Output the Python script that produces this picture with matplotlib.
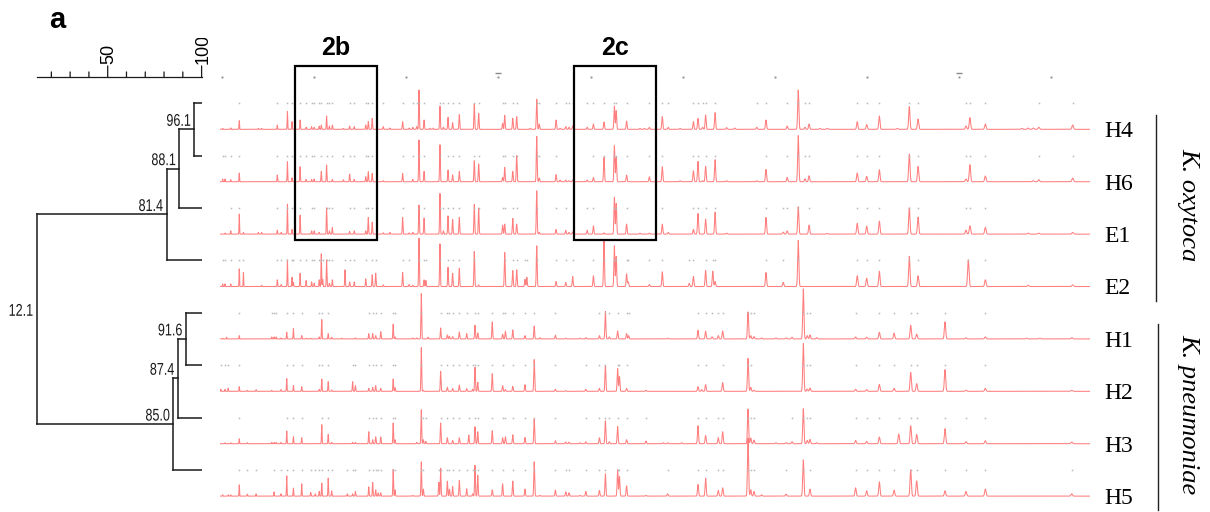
import numpy as np
import matplotlib
matplotlib.use("Agg")
import matplotlib.pyplot as plt
from matplotlib.patches import Rectangle, PathPatch
from matplotlib.textpath import TextPath
from matplotlib.font_manager import FontProperties
from matplotlib.transforms import Affine2D, ScaledTranslation, blended_transform_factory

# ---------------- data ----------------
strains = ["H4", "H6", "E1", "E2", "H1", "H2", "H3", "H5"]
species = ["K. oxytoca", "K. pneumoniae"]
species_rows = [(0, 3), (4, 7)]

# K. oxytoca peak list (m/z) and intensities (a.u.) per strain
oxy_mz = [2015, 2065, 2190, 2375, 2465, 2790, 2860, 3200, 3285, 3420, 3520, 3550, 3695, 3825,
          3945, 4000, 4110, 4155, 4185, 4270, 4330, 4395, 4635, 4670, 4770, 4870, 5120, 5175,
          5260, 5335, 5500, 5645, 5920, 6060, 6140, 6225, 6275, 6385, 6425, 6515, 6585, 6730,
          6805, 6905, 7005, 7150, 7475, 7570, 8090, 8135, 8310, 8395, 8575, 8615, 8685, 8830,
          8885, 9250, 9335, 9460, 9530, 9610, 9925, 10060, 10290, 10515, 10555, 10780, 10815,
          11070, 11165, 11275, 11555, 11685, 11940, 12140, 12230, 12330, 12430, 12495, 12650,
          12700, 12950, 13130, 13605, 13805, 14180, 14265, 14505, 14650, 14740, 14975, 15135,
          15785, 15990, 16265, 16655, 16915, 17105, 18145, 18195, 18230, 18565, 19355, 19495,
          19605, 19725, 20460]
oxy_H4 = [1, 0, 1.5, 8.7, 0, 1, 1, 4.3, 0, 17.7, 7.7, 0, 9.3, 2,
          2.7, 2, 3.3, 4.3, 0, 13.3, 3.3, 4.3, 1, 0, 3.3, 2.7, 4.3, 7.7,
          11, 0, 2.7, 1.3, 7.7, 1.3, 2, 2.7, 39.3, 9.3, 0, 1, 1.3, 23.3,
          2, 12, 6.7, 14.7, 25.3, 16, 6, 14, 11, 12.7, 0, 0, 1, 30,
          5.3, 9.3, 1, 2.7, 2, 3.3, 2, 5.3, 7.3, 23.3, 18.7, 8.3, 0,
          1, 1, 2, 12.7, 2, 1, 0, 7.7, 11, 2, 14.3, 0,
          16.7, 1.7, 1.3, 2, 9.3, 0, 3.3, 39.3, 2, 5.3, 1, 1,
          7.7, 4.7, 13.3, 1, 22.7, 10.3, 3.3, 0, 11.7, 5.3, 1, 1.3,
          1.3, 2, 4.3]
oxy_H6 = [2.7, 2.7, 2, 8.7, 0, 0, 0, 6.7, 0, 20, 4, 0, 15, 2.3,
          2.3, 2.7, 0, 10.3, 0, 16.7, 0, 2.3, 2, 0, 7.7, 2.3, 5, 10,
          8.3, 0, 1, 0, 8.3, 0, 2.3, 0, 41.7, 10.3, 0, 0, 0, 37,
          0, 11.7, 7, 10.3, 21, 17.7, 4.3, 14.3, 10.3, 26, 0, 0, 0, 45.3,
          3.7, 7, 1.7, 1.7, 1, 1.7, 1.7, 4.3, 24.3, 36, 24.3, 6.7, 0,
          0, 0, 5, 15, 0, 1, 0, 11, 20.3, 1, 15.3, 0,
          22, 1, 0, 1, 12.3, 0, 4.3, 46, 3, 6, 0, 0,
          8.7, 5.3, 12, 0, 27.7, 15.3, 2.7, 0, 17, 5.7, 0, 0,
          1, 2, 3.7]
oxy_E1 = [0, 1, 3.3, 20, 1.7, 1.7, 1.7, 4, 1.7, 30, 4.7, 0, 19, 0,
          3.3, 3.3, 1.7, 0, 0, 26.3, 3.3, 6.7, 0, 0, 2.7, 3.3, 3.3, 16.7,
          12, 0, 1.3, 1.7, 16.7, 1.3, 1.7, 0, 29, 16, 0, 0, 0, 40.7,
          3.3, 18.3, 14.7, 16.7, 29.7, 26, 9, 10, 15.7, 10, 0, 0, 0, 43.3,
          1.7, 4.7, 0, 3.7, 1.7, 2.3, 3.7, 8.3, 1.3, 36.7, 30.7, 10, 0,
          1, 0, 1, 10, 1.7, 0, 0, 4.7, 20.7, 0, 15, 0,
          22, 1, 0, 0, 16.7, 2, 3.3, 27.3, 0, 9, 0, 0.7,
          10.7, 8, 13, 0, 26.3, 17, 4, 0, 8.3, 6.7, 0, 1,
          0, 1, 1.7]
oxy_E2 = [2.7, 2.7, 2.7, 17.7, 14, 0, 1.3, 6.7, 2, 26.7, 9.3, 4.3, 13.3, 6,
          4.7, 3.3, 6.7, 32.7, 7.3, 26.7, 3.3, 6.7, 0, 16.7, 4.7, 4.7, 7.7, 0,
          11.7, 13.3, 1.7, 0, 14, 2, 1.3, 0, 48.3, 6.7, 6, 0, 0, 42.7,
          0, 19.3, 13.3, 18.3, 35, 1.7, 0, 34, 16, 16.7, 7.3, 9.3, 0, 40.7,
          0, 5, 0, 4, 0, 10, 0, 10.7, 46, 40.7, 30, 12.7, 4.7,
          0, 0, 2, 14.7, 0, 0, 3.3, 10, 0, 0, 16, 15.3,
          5, 0, 0, 0, 14, 4.3, 0, 46, 0, 0, 0, 0,
          10.7, 8.3, 15.3, 0, 30, 10.7, 0, 26.7, 0, 6.7, 0, 1.3,
          0, 0, 1.7]

# K. pneumoniae peak list (m/z) and intensities (a.u.) per strain
pne_mz = [1975, 2015, 2065, 2100, 2135, 2190, 2375, 2550, 2740, 3080, 3130, 3175, 3280, 3405,
          3550, 3730, 3840, 3925, 4025, 4110, 4165, 4305, 4380, 4600, 4720, 4835, 4895, 5185,
          5270, 5335, 5390, 5445, 5715, 5755, 6140, 6225, 6325, 6370, 6425, 6475, 6705, 6745,
          6890, 6935, 7005, 7150, 7310, 7355, 7440, 7490, 7550, 7865, 8090, 8150, 8310, 8575,
          8775, 8900, 9235, 9460, 9530, 9770, 9895, 10190, 10320, 10405, 10585, 10625, 10780,
          10825, 11200, 11575, 11670, 11975, 12330, 12410, 12495, 12635, 12770, 12865, 13415,
          13475, 13545, 13710, 14020, 14240, 14370, 14615, 14700, 14760, 14905, 15750, 15990,
          16265, 16585, 16685, 16945, 17075, 17690, 18145, 18565, 19460, 19750, 20440]
pne_H1 = [0, 0.7, 0, 1.7, 0, 0, 3.3, 0, 0, 2, 2, 2, 1, 6.7,
          10.3, 3.3, 0.7, 0.7, 0, 2, 19.3, 5.3, 1.7, 0.7, 0, 0, 1, 5.3,
          5.3, 3.3, 0, 7.3, 14.7, 2, 1, 1, 45.3, 0, 0, 1.7, 0, 11,
          4, 2.7, 2.3, 7, 5.3, 0, 0, 13.7, 6, 17, 4.7, 7.7, 9, 3.3,
          12.7, 1.3, 3.7, 0.7, 0, 0.7, 1.3, 3.3, 27.3, 2, 8, 0, 5.3,
          3.3, 0, 0, 0.7, 0, 8.7, 0, 7.7, 2, 3.3, 8, 27,
          3.3, 2.3, 1, 1, 1, 1.7, 50, 3.3, 4, 1.3, 2, 1.7,
          6.7, 5.7, 0, 13.7, 4.7, 17, 1, 2, 0.7, 0.7, 1.3]
pne_H2 = [2, 0, 2, 0, 3.3, 0, 4.7, 1, 1.7, 1, 0, 0, 1.7, 12.7,
          5.7, 4.7, 0, 0, 0, 2, 12.3, 9.7, 1.3, 0, 0, 9.7, 5.7, 3,
          4, 5.7, 0, 3, 12.3, 3.7, 0, 0, 43.7, 1, 0, 0, 0, 20,
          4, 0, 3, 6.3, 2.7, 0, 2, 24, 9, 17.7, 5.7, 1.7, 5, 6.7,
          31.7, 0, 2, 0.7, 0, 0, 2, 3, 26, 0, 22.7, 15, 3,
          0, 1, 0, 0, 0, 4.7, 1.7, 6.7, 0, 0, 8.7, 33,
          4, 1, 0, 0, 0, 0, 47.7, 2.3, 3.3, 0, 2, 1.7,
          7, 3, 0, 19, 7.7, 21.7, 1, 3, 0, 0, 1]
pne_H3 = [0, 0, 1, 0, 0, 1, 5, 1, 0, 1.3, 1.3, 1.3, 1.3, 12.7,
          7, 6, 0, 0, 0, 0, 19, 9.3, 1.3, 0, 0, 1.3, 1.3, 12,
          4, 7, 0, 6.7, 20.7, 4, 0, 1.3, 34, 4, 2.3, 0, 0, 20.7,
          6, 0, 3.3, 6, 0, 8.7, 0, 17, 12, 13, 6, 7, 9, 6.3,
          24.7, 0, 3, 1.7, 1.5, 1, 2, 6, 23, 2, 17.3, 0, 4,
          0, 2.7, 1, 1, 1, 18, 0, 8.3, 0, 6, 12, 34.7,
          5.7, 3.7, 0, 1, 1, 2, 35, 3.3, 4.3, 1, 3.3, 2.3,
          6.7, 0, 9.7, 18, 9.3, 15, 2, 3, 0, 0, 1.7]
pne_H5 = [0, 1.3, 0, 0, 1.3, 1.3, 11.3, 2, 2.3, 0, 4.3, 0, 2.3, 20.3,
          8, 12.3, 0, 3.7, 2.3, 4.7, 13, 18, 5.3, 0, 2.3, 2.3, 4.7, 9.3,
          13.7, 6.3, 3.3, 3.3, 26.7, 6.3, 0.7, 0, 34.3, 7, 0, 0, 13.7, 28,
          15, 7, 9.7, 15.7, 7.3, 0, 2.3, 31, 21, 6.3, 12.3, 0, 15, 7,
          34.3, 0.7, 6, 4.3, 3.3, 0.7, 4.7, 5.7, 22.3, 0, 26.3, 19.7, 10.3,
          0, 0.7, 0, 2.3, 0, 11.7, 0, 18, 0, 5.7, 8.3, 58,
          6.3, 4.7, 1.3, 0, 2, 0, 36.3, 0, 7, 0, 8.3, 5.3,
          14.3, 6, 0, 26.3, 15.3, 5.3, 4.7, 7, 0, 0, 2.3]

spectra = {
    "H4": (oxy_mz, oxy_H4), "H6": (oxy_mz, oxy_H6), "E1": (oxy_mz, oxy_E1), "E2": (oxy_mz, oxy_E2),
    "H1": (pne_mz, pne_H1), "H2": (pne_mz, pne_H2), "H3": (pne_mz, pne_H3), "H5": (pne_mz, pne_H5),
}

# m/z reference ticks along the top of the spectra
ref_ticks = [2000, 4000, 6000, 8000, 10000, 12000, 14000, 16000, 18000, 20000]
ref_marked = [8000, 18000]

# regions shown enlarged in panels 2b / 2c (m/z)
regions = {"2b": (3585, 5355), "2c": (9640, 11410)}

# dendrogram merges (similarity %)
merge_left = ["H4", "n1", "n2", "H1", "n4", "n5", "n3"]
merge_right = ["H6", "E1", "E2", "H2", "H3", "H5", "n6"]
merge_sim = [96.1, 88.1, 81.4, 91.6, 87.4, 85.0, 12.1]
ruler_ticks = [20, 30, 40, 50, 60, 70, 80, 90, 100]
ruler_labels = [50, 100]

# ---------------- figure ----------------
W, H = 1210, 512
fig = plt.figure(figsize=(W / 100, H / 100), dpi=100)

XMIN, XMAX = 1957, 20836
YLIM = (7.303, -2.468)      # rows, inverted (row i baseline at y = i)
INT_SCALE = 1 / 52.4         # intensity units -> row units

ax = fig.add_axes([220 / W, 0, 870 / W, 1])
ax.set_xlim(XMIN, XMAX)
ax.set_ylim(*YLIM)
ax.axis("off")

grid = np.linspace(XMIN, XMAX, 24000)
for i, s in enumerate(strains):
    pos, inten = spectra[s]
    pos = np.asarray(pos, float)
    inten = np.asarray(inten, float)
    y = np.zeros_like(grid)
    for p, h in zip(pos, inten):
        if h > 0:
            sig = 4 + 0.0006 * p
            y += h * np.exp(-0.5 * ((grid - p) / sig) ** 2)
    ax.plot(grid, i - y * INT_SCALE, color="#ff7070", lw=0.75, alpha=0.9)
    sel = inten >= 2
    ax.plot(pos[sel], np.full(sel.sum(), i - 0.5), ls="none", marker="s", ms=1.1,
            mew=0, color="#b8b8b8")

# reference ticks along the top
ax.plot(ref_ticks, [-1] * len(ref_ticks), ls="none", marker="s", ms=1.4, mew=0, color="#909090")
ax.plot(ref_marked, [-1.08] * len(ref_marked), ls="none", marker="_", ms=4, mew=1.0, color="#888888")

# region boxes
for name, (a, b) in regions.items():
    top, bot = 0 - 1.214, 2 + 0.113
    ax.add_patch(Rectangle((a, top), b - a, bot - top, fill=False, ec="black", lw=1.6,
                           clip_on=False, zorder=5))
    ax.annotate(name, xy=((a + b) / 2, top), xytext=(0, 7.7), textcoords="offset points",
                ha="center", va="baseline", fontsize=18, fontweight="bold",
                family="Liberation Sans", annotation_clip=False)

# strain labels
for i, s in enumerate(strains):
    ax.annotate(s, xy=(1104 / W, i), xycoords=("figure fraction", "data"),
                xytext=(0, -5.6), textcoords="offset points", ha="left", va="baseline",
                fontsize=17, family="Liberation Serif", annotation_clip=False)

# species brackets and labels
btr = blended_transform_factory(fig.transFigure, ax.transData)
bx = [1156 / W, 1158 / W]
for k, (sp, (r0, r1)) in enumerate(zip(species, species_rows)):
    ax.plot([bx[k], bx[k]], [r0 - 0.28, r1 + 0.27], transform=btr, color="#222222",
            lw=1.0, clip_on=False)
    ax.text(1188 / W, (r0 + r1) / 2 - 0.07, sp, transform=btr, rotation=-90,
            ha="center", va="center", fontsize=19, style="italic",
            family="Liberation Serif", clip_on=False)

# ---------------- dendrogram ----------------
dx = fig.add_axes([13.8 / W, 0, 187.8 / W, 1])
dx.set_xlim(0, 100)
dx.set_ylim(*YLIM)
dx.axis("off")

label_fp = FontProperties(family="Liberation Sans")


def narrow_label(axes, s, x, y, em_px=17.0, sx=0.74, off=(-4.0, 3.5)):
    """Condensed (narrow) label drawn as a path, right-aligned left of (x, y)."""
    tp = TextPath((0, 0), s, size=em_px, prop=label_fp)
    w = tp.get_extents().x1 * sx
    tr = (Affine2D().scale(sx, 1).translate(off[0] - w, off[1])
          + ScaledTranslation(x, y, axes.transData))
    axes.add_patch(PathPatch(tp, transform=tr, fc="#1a1a1a", ec="none", lw=0, clip_on=False))


node_x = {s: 100.0 for s in strains}
node_y = {s: i - 0.5 for i, s in enumerate(strains)}
lc = "#1a1a1a"
for k, (l, r, sim) in enumerate(zip(merge_left, merge_right, merge_sim)):
    name = "n%d" % (k + 1)
    yl, yr = node_y[l], node_y[r]
    dx.plot([sim, sim], [yl, yr], color=lc, lw=1.1, solid_capstyle="projecting")
    dx.plot([sim, node_x[l]], [yl, yl], color=lc, lw=1.1, solid_capstyle="projecting")
    dx.plot([sim, node_x[r]], [yr, yr], color=lc, lw=1.1, solid_capstyle="projecting")
    node_x[name] = sim
    node_y[name] = (yl + yr) / 2
    narrow_label(dx, "%.1f" % sim, sim, node_y[name])

# similarity ruler
ry = -1
dx.plot([merge_sim[-1], 100], [ry, ry], color=lc, lw=0.9, clip_on=False)
for t in ruler_ticks:
    L = 11 if t in ruler_labels else 5
    dx.annotate("", xy=(t, ry), xytext=(0, L * 0.72), textcoords="offset points",
                arrowprops=dict(arrowstyle="-", lw=0.9, color=lc, shrinkA=0, shrinkB=0),
                annotation_clip=False)
clip_rect = Rectangle((0, 0), 1, (H - 37.5) / H, transform=fig.transFigure)
for t in ruler_labels:
    txt = dx.annotate(str(t), xy=(t, ry), xytext=(0.8, 9.5), textcoords="offset points",
                      rotation=90, ha="center", va="bottom", fontsize=13,
                      family="Liberation Sans", annotation_clip=False)
    txt.set_clip_path(clip_rect)

fig.text(57 / W, 1 - 20 / H, "a", fontsize=21, fontweight="bold", ha="center", va="center",
         family="Liberation Sans")

fig.savefig("out.png", dpi=100)
